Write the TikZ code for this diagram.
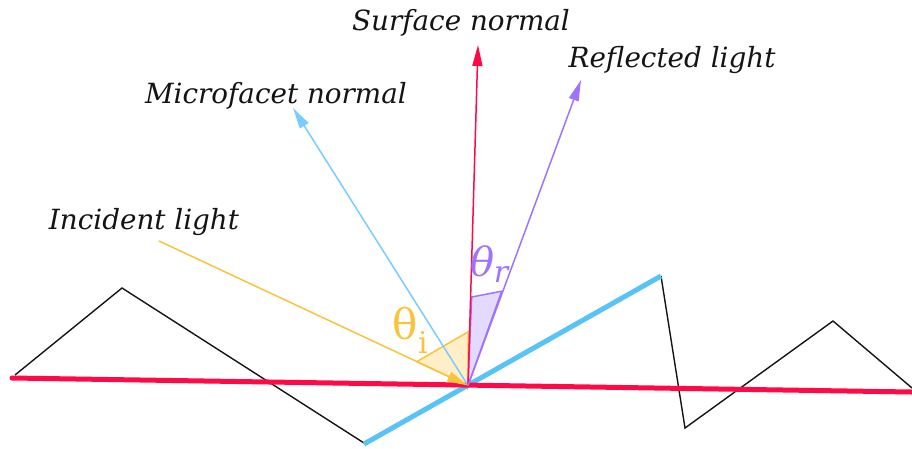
\documentclass[tikz,border=0pt]{standalone}
\usepackage{fontspec}
\setmainfont{DejaVu Serif}
\usetikzlibrary{arrows.meta}
\definecolor{sred}{RGB}{255,10,70}
\definecolor{sblue}{RGB}{90,195,245}
\definecolor{lblue}{RGB}{120,205,255}
\definecolor{syellow}{RGB}{250,195,60}
\definecolor{fyellow}{RGB}{255,238,200}
\definecolor{spurple}{RGB}{160,115,255}
\definecolor{fpurple}{RGB}{228,218,255}
\definecolor{txt}{RGB}{20,20,20}
\tikzset{
  lbl/.style={font=\fontsize{27.8}{30}\selectfont\itshape, text=txt, inner sep=0pt, anchor=base},
  thin/.style={line width=1.5pt},
  tip/.style={-{Triangle[length=21pt,width=10pt]}},
}
\begin{document}
\begin{tikzpicture}[x=1pt,y=-1pt]
\useasboundingbox (0,0) rectangle (912,448);
% coordinates
\coordinate (O) at (468,385.5);
\coordinate (Ns) at (478,45);
\coordinate (Nm) at (293,108);
\coordinate (R) at (581,80);
\coordinate (I) at (159,241);
% wedges
\filldraw[fill=fyellow, draw=syellow, thin] (O) -- (416.7,361.7) -- (468.3,331.7) -- cycle;
\filldraw[fill=fpurple, draw=spurple, thin] (O) -- (471.7,297) -- (501.7,291.2) -- cycle;
% zigzag surface
\draw[txt, line width=1.4pt, line join=miter] (15,375) -- (122,288) -- (364,443) (661,276) -- (685,428) -- (833,321) -- (912,388);
\draw[sblue, line width=5pt] (364,444) -- (661,276);
\draw[sred, line width=5pt, line cap=round] (12,378) -- (912,392);
% rays
\draw[lblue, thin, tip] (O) -- (Nm);
\draw[sred, thin, tip] (O) -- (Ns);
\draw[spurple, thin, tip] (O) -- (R);
\draw[syellow, thin, tip] (I) -- (O);
% labels
\node[lbl] (ls) at (461,30) {Surface normal};
\node[lbl] (lr) at (672,67) {Reflected light};
\node[lbl] (lm) at (276,103) {Microfacet normal};
\node[lbl] (li) at (144,229) {Incident light};
\node[font=\fontsize{42}{44}\selectfont, text=syellow, inner sep=0pt, anchor=base] (ti) at (405,339) {θ};
\node[font=\fontsize{30}{32}\selectfont, text=syellow, inner sep=0pt, anchor=base] (tis) at (423,353) {i};
\node[font=\fontsize{40}{42}\selectfont\itshape, text=spurple, inner sep=0pt, anchor=base] (tr) at (483,276) {θ};
\node[font=\fontsize{30}{32}\selectfont\itshape, text=spurple, inner sep=0pt, anchor=base] (trs) at (501,282) {r};
\end{tikzpicture}
\end{document}
